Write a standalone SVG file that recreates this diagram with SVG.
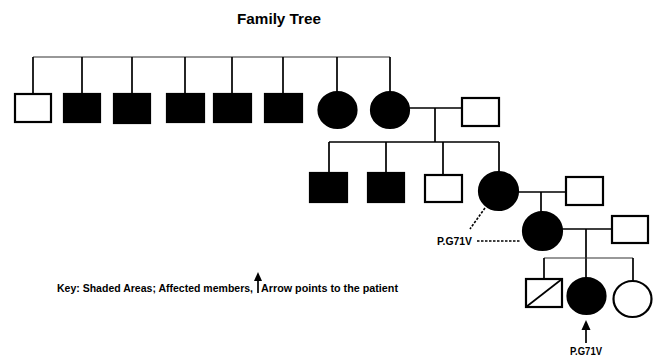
<svg xmlns="http://www.w3.org/2000/svg" width="659" height="356" viewBox="0 0 659 356">
<defs>
<style>
.t{font-family:"Liberation Sans",Arial,sans-serif;font-weight:bold;fill:#000}
.n{stroke:#000;stroke-width:2.2}
.f{fill:#000}
.e{fill:#fff}
.c{fill:none;stroke:#000;stroke-width:1.7}
.thin{fill:none;stroke:#333;stroke-width:1.1}
.d{fill:none;stroke:#000;stroke-width:1.6;stroke-dasharray:2.5 1.5}
</style>
</defs>
<rect width="659" height="356" fill="#fff"/>
<text class="t" x="237" y="24" font-size="15" textLength="84" lengthAdjust="spacingAndGlyphs">Family Tree</text>

<g id="connectors">
<path class="thin" d="M33 57H390"/>
<path class="c" d="M33 57V94M82 57V94M132 57V94M185 57V94M232 57V94M283 57V94M337 57V92M390 57V92"/>
<path class="c" d="M409 108H462M435 108V142"/>
<path class="c" d="M329 142H499M329 142V173M386 142V173M443 142V175M499 142V172"/>
<path class="c" d="M518 192H566M541 192V212"/>
<path class="c" d="M562 229H612M586 229V278"/>
<path class="thin" d="M544 258H633"/>
<path class="c" d="M544 258V279M633 258V281"/>
<path class="d" d="M485 208L470 229"/>
<path class="d" d="M477 241H520"/>
</g>

<g id="g1-1"><rect class="n e" x="15" y="94" width="36" height="28"/></g>
<g id="g1-2"><rect class="n f" x="64" y="94" width="36" height="28"/></g>
<g id="g1-3"><rect class="n f" x="114" y="94" width="36" height="29"/></g>
<g id="g1-4"><rect class="n f" x="167" y="94" width="37" height="28"/></g>
<g id="g1-5"><rect class="n f" x="214" y="94" width="37" height="28"/></g>
<g id="g1-6"><rect class="n f" x="265" y="94" width="37" height="28"/></g>
<g id="g1-7"><ellipse class="n f" cx="337.5" cy="110" rx="19" ry="18"/></g>
<g id="g1-8"><ellipse class="n f" cx="390" cy="110" rx="19" ry="18"/></g>
<g id="g1-spouse"><rect class="n e" x="462" y="98" width="37" height="28"/></g>

<g id="g2-1"><rect class="n f" x="310" y="173" width="37" height="29"/></g>
<g id="g2-2"><rect class="n f" x="368" y="173" width="36" height="29"/></g>
<g id="g2-3"><rect class="n e" x="425" y="175" width="37" height="27"/></g>
<g id="g2-4"><ellipse class="n f" cx="498.5" cy="191" rx="19.5" ry="19"/></g>
<g id="g2-spouse"><rect class="n e" x="566" y="177" width="37" height="28"/></g>

<g id="g3-1"><ellipse class="n f" cx="542.5" cy="231" rx="19.5" ry="19"/></g>
<g id="g3-spouse"><rect class="n e" x="612" y="216" width="36" height="27"/></g>

<g id="g4-1"><rect class="n e" x="526" y="279" width="36" height="28"/><path class="c" d="M526 307L562 279"/></g>
<g id="g4-2"><ellipse class="n f" cx="586.5" cy="296" rx="19" ry="18"/></g>
<g id="g4-3"><ellipse class="n e" cx="632.5" cy="299" rx="19" ry="18"/></g>

<g id="label-1"><text class="t" x="437" y="245" font-size="10" textLength="35" lengthAdjust="spacingAndGlyphs">P.G71V</text></g>
<g id="patient-arrow"><path class="c" d="M586 343V328"/><polygon points="586,320 581.5,330 590.5,330" fill="#000"/></g>
<g id="label-2"><text class="t" x="570" y="355" font-size="10" textLength="32" lengthAdjust="spacingAndGlyphs">P.G71V</text></g>

<g id="key">
<text class="t" x="57" y="292" font-size="10" textLength="196" lengthAdjust="spacingAndGlyphs">Key: Shaded Areas; Affected members,</text>
<path class="c" d="M258 293V279"/><polygon points="258,272 254,281 262,281" fill="#000"/>
<text class="t" x="261" y="292" font-size="10" textLength="137" lengthAdjust="spacingAndGlyphs">Arrow points to the patient</text>
</g>
</svg>
